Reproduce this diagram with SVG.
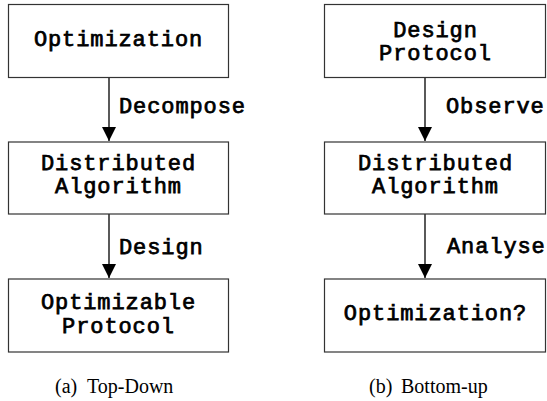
<svg xmlns="http://www.w3.org/2000/svg" width="547" height="401" viewBox="0 0 547 401">
<style>
.box{fill:#fff;stroke:#333;stroke-width:1.2}
.t{font-family:"Liberation Mono","Courier New",monospace;font-weight:normal;font-size:22px;letter-spacing:0.9px;fill:#000;stroke:#000;stroke-width:0.75}
.c{text-anchor:middle}
.cap{font-family:"Liberation Serif","Times New Roman",serif;font-size:20px;fill:#000}
.ln{stroke:#000;stroke-width:1.3;fill:none}
</style>
<defs>
<marker id="ah" markerWidth="15" markerHeight="14" refX="15" refY="7.5" orient="auto" markerUnits="userSpaceOnUse" viewBox="0 0 15 15">
<path d="M0,0 L15,7.5 L0,15 Z" fill="#000"/>
</marker>
</defs>
<rect width="547" height="401" fill="#fff"/>
<g id="connectors">
<line class="ln" x1="109" y1="77" x2="109" y2="141" marker-end="url(#ah)"/>
<line class="ln" x1="109" y1="214" x2="109" y2="278" marker-end="url(#ah)"/>
<line class="ln" x1="425" y1="77" x2="425" y2="141" marker-end="url(#ah)"/>
<line class="ln" x1="425" y1="214" x2="425" y2="278" marker-end="url(#ah)"/>
<text class="t" x="119" y="113">Decompose</text>
<text class="t" x="119" y="254">Design</text>
<text class="t" x="446" y="113">Observe</text>
<text class="t" x="447" y="253">Analyse</text>
</g>
<g id="a1"><rect class="box" x="8.5" y="4.5" width="220" height="73"/><text class="t c" x="118.5" y="46">Optimization</text></g>
<g id="a2"><rect class="box" x="8.5" y="142" width="220" height="72"/><text class="t c" x="118.5" y="170">Distributed</text><text class="t c" x="118.5" y="193">Algorithm</text></g>
<g id="a3"><rect class="box" x="8.5" y="279" width="220" height="73"/><text class="t c" x="118.5" y="309">Optimizable</text><text class="t c" x="118.5" y="333">Protocol</text></g>
<g id="b1"><rect class="box" x="324.5" y="4.5" width="221" height="73"/><text class="t c" x="435.5" y="37">Design</text><text class="t c" x="435.5" y="60">Protocol</text></g>
<g id="b2"><rect class="box" x="324.5" y="142" width="221" height="72"/><text class="t c" x="435.5" y="170">Distributed</text><text class="t c" x="435.5" y="193">Algorithm</text></g>
<g id="b3"><rect class="box" x="324.5" y="279" width="221" height="73"/><text class="t c" x="435.5" y="320">Optimization?</text></g>
<g id="captions">
<text class="cap" x="55" y="393">(a)<tspan x="87">Top-Down</tspan></text>
<text class="cap" x="369" y="393">(b)<tspan x="401">Bottom-up</tspan></text>
</g>
</svg>
